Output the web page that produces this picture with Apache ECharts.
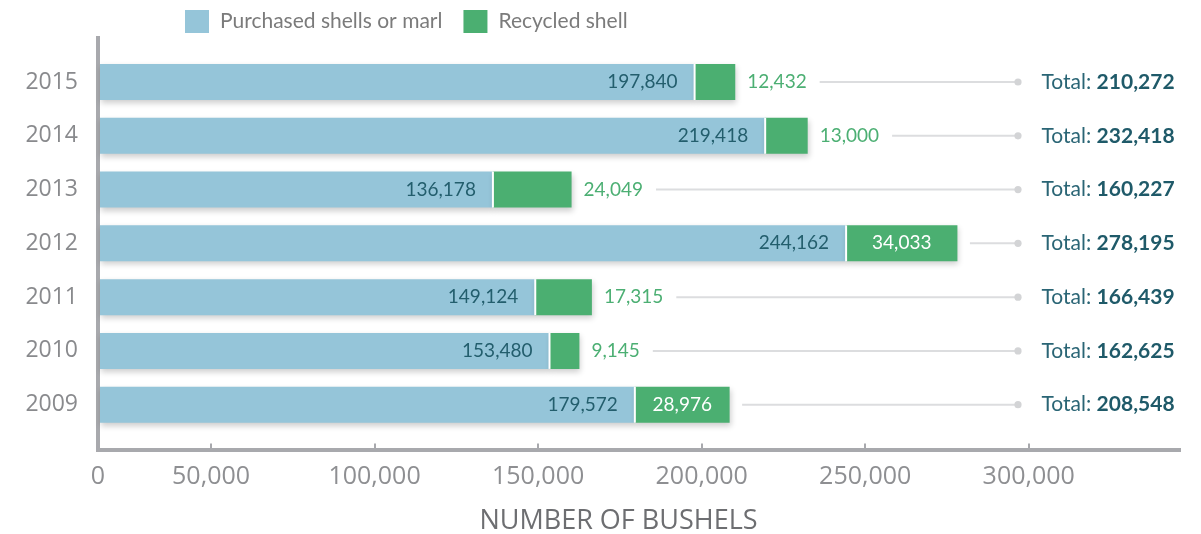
<!DOCTYPE html>
<html>
<head>
<meta charset="utf-8">
<script src="https://cdn.jsdelivr.net/npm/echarts@6/dist/echarts.min.js"></script>
<style>
html,body{margin:0;padding:0;background:#fff;}
#chart{width:1201px;height:534px;}
</style>
</head>
<body>
<div id="chart"></div>
<script>
// ---- data ----
const years = ['2009', '2010', '2011', '2012', '2013', '2014', '2015'];
const purchased = [179572, 153480, 149124, 244162, 136178, 219418, 197840];
const recycled = [28976, 9145, 17315, 34033, 24049, 13000, 12432];
const totals = [208548, 162625, 166439, 278195, 160227, 232418, 210272];
const tickValues = [50000, 100000, 150000, 200000, 250000, 300000];
const seriesNames = ['Purchased shells or marl', 'Recycled shell'];
const axisTitle = 'NUMBER OF BUSHELS';

// ---- styling ----
const BLUE = '#95c5d9';
const GREEN = '#4baf71';
const TEAL = '#235e6d';
const GREEN_TXT = '#4caf73';
const AXIS_GRAY = '#a8a9ad';
const LABEL_FONT = 'Lato';
const LABEL_SIZE = 19;
const INSIDE_MIN = 25000;
const BAR_W = 36;

// The original axis: value 0 sits at x≈47.5px, 50k per 163.5px; plot area starts at x=98 labelled "0".
const PX0 = 47.5, PXU = 0.0032708;
const v = px => (px - PX0) / PXU;
const AXIS_MIN = v(98), BAR_MIN = v(100), AXIS_MAX = v(1179);

const fmt = n => n.toLocaleString('en-US');
const mctx = document.createElement('canvas').getContext('2d');
function textW(s, font) { mctx.font = font; return mctx.measureText(s).width; }

const chart = echarts.init(document.getElementById('chart'));

const shadow = { shadowColor: 'rgba(0,0,0,0.2)', shadowBlur: 6, shadowOffsetY: 3, shadowOffsetX: 1 };

const option = {
  animation: false,
  backgroundColor: '#fff',
  legend: {
    left: 180, top: 5,
    itemWidth: 24, itemHeight: 23, itemGap: 21,
    icon: 'rect',
    data: seriesNames,
    textStyle: { fontFamily: LABEL_FONT, fontSize: 21, color: '#7b7b7b', padding: [0, 0, 0, 6] }
  },
  grid: [
    { left: 100, top: 55.1, right: 22, height: 376.5, outerBoundsMode: 'none', containLabel: false },
    { left: 98, top: 38, right: 22, bottom: 84.5, outerBoundsMode: 'none', containLabel: false }
  ],
  xAxis: [
    { gridIndex: 0, type: 'value', min: BAR_MIN, max: AXIS_MAX, show: false },
    {
      gridIndex: 1, type: 'value', min: AXIS_MIN, max: AXIS_MAX,
      axisLine: { show: true, lineStyle: { color: AXIS_GRAY, width: 4, cap: 'square' } },
      axisTick: { show: true, inside: true, length: 6, customValues: tickValues, lineStyle: { color: AXIS_GRAY, width: 2 } },
      splitLine: { show: false },
      axisLabel: {
        customValues: [AXIS_MIN].concat(tickValues),
        formatter: val => (val < 20000 ? '0' : fmt(Math.round(val))),
        fontFamily: 'Open Sans', fontSize: 25, color: '#8e8f92', margin: 15
      },
      name: axisTitle, nameLocation: 'middle', nameGap: 58,
      nameTextStyle: { fontFamily: 'Open Sans', fontSize: 27, color: '#6d6e71', padding: [0, 40, 0, 0] }
    }
  ],
  yAxis: [
    {
      gridIndex: 0, type: 'category', data: years,
      axisLine: { show: false }, axisTick: { show: false },
      axisLabel: { fontFamily: 'Open Sans', fontSize: 23, color: '#898a8d', margin: 22 }
    },
    {
      gridIndex: 1, type: 'value', min: 0, max: 1,
      axisLine: { show: true, lineStyle: { color: AXIS_GRAY, width: 4, cap: 'square' } },
      axisTick: { show: false }, axisLabel: { show: false }, splitLine: { show: false }
    }
  ],
  series: [
    {
      name: seriesNames[0], type: 'bar', stack: 'a', barWidth: BAR_W,
      xAxisIndex: 0, yAxisIndex: 0,
      data: purchased,
      itemStyle: Object.assign({ color: BLUE }, shadow),
      label: {
        show: true, position: 'insideRight', distance: 17,
        formatter: p => fmt(p.value),
        fontFamily: LABEL_FONT, fontSize: LABEL_SIZE, color: TEAL
      }
    },
    {
      name: seriesNames[1], type: 'bar', stack: 'a', barWidth: BAR_W,
      xAxisIndex: 0, yAxisIndex: 0,
      data: recycled.map(val => ({
        value: val,
        label: val >= INSIDE_MIN
          ? { position: 'inside', color: '#fff' }
          : { position: 'right', distance: 12, color: GREEN_TXT }
      })),
      itemStyle: Object.assign({ color: GREEN }, shadow),
      label: {
        show: true,
        formatter: p => fmt(p.value),
        fontFamily: LABEL_FONT, fontSize: LABEL_SIZE
      }
    },
    {
      type: 'custom', xAxisIndex: 0, yAxisIndex: 0, clip: false, silent: true, z: 5,
      data: years.map((y, i) => [i, totals[i], recycled[i], purchased[i]]),
      renderItem: function (params, api) {
        const cat = api.value(0), tot = api.value(1), rec = api.value(2), pur = api.value(3);
        const end = api.coord([tot, cat]);
        const sep = api.coord([pur, cat]);
        const cs = params.coordSys;
        let startX = end[0] + 12.5;
        if (rec < INSIDE_MIN) {
          startX = end[0] + 12 + textW(fmt(rec), LABEL_SIZE + 'px ' + LABEL_FONT) + 13;
        }
        const dotX = cs.x + cs.width - 161;
        const y = end[1];
        return {
          type: 'group',
          children: [
            { type: 'rect', shape: { x: sep[0] - 1, y: y - BAR_W / 2, width: 2, height: BAR_W }, style: { fill: '#fff' } },
            { type: 'line', shape: { x1: startX, y1: y, x2: dotX, y2: y }, style: { stroke: '#dcdddf', lineWidth: 2 } },
            { type: 'circle', shape: { cx: dotX, cy: y, r: 3.6 }, style: { fill: '#d3d4d6' } },
            {
              type: 'text', x: dotX + 23.5, y: y,
              style: {
                text: '{a|Total: }{b|' + fmt(tot) + '}',
                verticalAlign: 'middle', align: 'left',
                rich: {
                  a: { fontFamily: LABEL_FONT, fontSize: 21, fill: '#2a6575', color: '#2a6575' },
                  b: { fontFamily: LABEL_FONT, fontSize: 21, fontWeight: 'bold', fill: '#1f5a69', color: '#1f5a69' }
                }
              }
            }
          ]
        };
      }
    }
  ]
};
chart.setOption(option);
</script>
</body>
</html>
